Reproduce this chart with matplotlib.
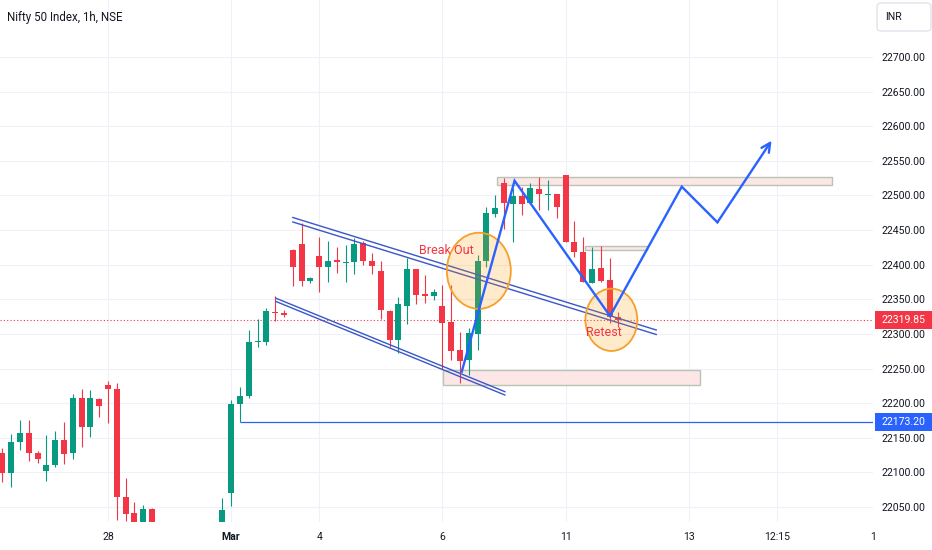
import matplotlib
matplotlib.use('Agg')
import matplotlib.pyplot as plt
from matplotlib.patches import Rectangle, Ellipse, FancyBboxPatch

plt.rcParams['font.family'] = ['Roboto', 'DejaVu Sans']

# ---- hourly candles, bar index: 0 = 28 Feb 09:15, 7 bars per session ----
idx = [-12, -11, -10, -9, -8, -7, -6, -5, -4, -3, -2, -1, 0, 1, 2, 3, 4, 5,
       13, 14, 15, 16, 17, 18, 19, 20, 21, 22, 23, 24, 25, 26, 27, 28, 29, 30,
       31, 32, 33, 34, 35, 36, 37, 38, 39, 40, 41, 42, 43, 44, 45, 46, 47, 48,
       49, 50, 51, 52, 53, 54, 55, 56, 57, 58]
opens = [22127.5, 22098.6, 22143.4, 22157.4, 22128.5, 22102.0, 22110.7, 22146.8,
         22127.5, 22207.0, 22165.1, 22205.5, 22226.2, 22220.5, 22065.0, 22041.8,
         22025.0, 22047.6, 22020.0, 22070.7, 22198.8, 22210.4, 22288.4, 22288.9,
         22331.7, 22330.8, 22421.2, 22429.9, 22376.9, 22413.0, 22396.2, 22406.8,
         22402.9, 22404.4, 22430.9, 22405.8, 22391.4, 22333.6, 22291.0, 22341.0,
         22393.3, 22357.2, 22355.5, 22340.5, 22316.8, 22276.8, 22262.4, 22299.9,
         22405.8, 22473.2, 22518.5, 22487.7, 22499.2, 22488.7, 22508.9, 22500.2,
         22502.0, 22529.6, 22433.2, 22417.9, 22374.0, 22395.7, 22377.9, 22324.0]
highs = [22134.7, 22155.5, 22175.7, 22175.7, 22131.4, 22154.0, 22160.3, 22172.3,
         22212.8, 22220.5, 22219.0, 22207.9, 22232.0, 22228.6, 22091.4, 22056.7,
         22052.9, 22048.6, 22062.6, 22204.6, 22223.9, 22305.7, 22321.1, 22337.0,
         22354.8, 22334.6, 22422.0, 22459.7, 22382.7, 22440.5, 22434.7, 22425.1,
         22428.4, 22438.1, 22434.7, 22416.4, 22405.0, 22334.0, 22353.5, 22410.0,
         22394.0, 22385.0, 22364.5, 22371.0, 22370.7, 22303.2, 22308.1, 22414.0,
         22483.8, 22500.7, 22524.8, 22510.3, 22512.7, 22518.5, 22527.1, 22522.3,
         22502.5, 22530.0, 22463.1, 22439.6, 22425.1, 22427.0, 22409.2, 22332.1]
lows = [22086.6, 22078.4, 22132.3, 22116.9, 22113.1, 22088.0, 22107.3, 22111.6,
        22118.9, 22136.2, 22151.6, 22180.5, 22170.9, 22031.2, 22030.3, 22020.0,
        22020.0, 22015.0, 22010.0, 22051.5, 22173.2, 22208.0, 22280.7, 22284.1,
        22319.2, 22325.0, 22369.2, 22369.2, 22374.0, 22361.0, 22375.5, 22388.5,
        22375.5, 22386.1, 22399.6, 22386.6, 22322.0, 22281.0, 22273.0, 22315.0,
        22343.0, 22344.0, 22349.0, 22250.0, 22262.4, 22228.7, 22240.7, 22276.8,
        22397.1, 22468.5, 22451.1, 22433.2, 22471.8, 22488.0, 22479.0, 22479.0,
        22467.0, 22433.0, 22411.6, 22375.0, 22373.0, 22375.0, 22315.4, 22310.5]
closes = [22098.6, 22144.4, 22156.4, 22128.5, 22118.9, 22110.7, 22146.8, 22126.1,
          22207.0, 22166.0, 22207.0, 22195.9, 22220.5, 22064.0, 22039.9, 22025.0,
          22046.6, 22022.0, 22045.7, 22198.8, 22210.4, 22288.9, 22290.3, 22333.2,
          22330.8, 22326.9, 22396.2, 22376.4, 22380.3, 22396.2, 22405.8, 22404.4,
          22403.9, 22429.9, 22405.8, 22398.6, 22335.0, 22291.0, 22342.8, 22393.3,
          22356.2, 22355.2, 22360.1, 22316.2, 22275.8, 22261.4, 22300.9, 22405.8,
          22475.1, 22481.4, 22488.7, 22499.2, 22487.7, 22510.3, 22501.7, 22502.0,
          22483.8, 22433.2, 22418.8, 22375.4, 22394.2, 22376.9, 22324.9, 22319.85]

last_price = 22319.85
support_price = 22173.20
support_start = 15

day_ticks = [0, 14, 24, 38, 52, 66, 76, 86.9]
day_labels = ['28', 'Mar', '4', '6', '11', '13', '12:15', '1']
price_ticks = list(range(22050, 22701, 50))

# ---- drawings ----
chan_top_x = [21.0, 62.3]
chan_top_a = [22468.2, 22305.7]
chan_top_b = [22461.7, 22299.2]
chan_bot_x = [19.1, 45.1]
chan_bot_a = [22351.5, 22216.6]
chan_bot_b = [22346.8, 22211.8]

zigzag_x = [40.2, 46.2, 57.05, 65.2, 69.25, 75.4]
zigzag_y = [22245.5, 22521.3, 22325.9, 22512.7, 22461.2, 22579.1]

# zones: x0, x1, low, high
zones = [(44.2, 82.3, 22515.1, 22527.1),
         (54.2, 61.25, 22421.2, 22427.7),
         (38.1, 67.3, 22226.2, 22247.9)]

# circles: cx, cy, width (bars), height (points)
circles = [(42.14, 22391.2, 7.27, 110.0), (57.2, 22320.4, 5.9, 90.0)]
notes = [(38.4, 22419.8, 'Break Out'), (56.36, 22301.8, 'Retest')]

GREEN = '#089981'
RED = '#f23645'
BLUE = '#2962ff'
GRID = '#eef1f7'
TXT = '#131722'

fig = plt.figure(figsize=(9.32, 5.5), dpi=100)
ax = fig.add_axes([0, 28 / 550, 873 / 932, 522 / 550])
ax.set_xlim(-12.27, 86.93)
ax.set_ylim(22028.4, 22782.3)

for s in ax.spines.values():
    s.set_visible(False)

ax.set_yticks(price_ticks)
ax.set_yticklabels(['%.2f' % p for p in price_ticks])
ax.yaxis.tick_right()
ax.set_xticks(day_ticks)
ax.set_xticklabels(day_labels)
ax.tick_params(length=0, labelsize=7.6, colors=TXT)
ax.tick_params(axis='y', pad=6)
ax.tick_params(axis='x', pad=7)
ax.get_xticklabels()[1].set_fontweight('bold')
ax.grid(True, color=GRID, lw=0.8)
ax.set_axisbelow(True)

# candles
for i, o, h, l, c in zip(idx, opens, highs, lows, closes):
    col = GREEN if c >= o else RED
    ax.vlines(i, l, h, color=col, lw=0.8, zorder=2)
    ax.bar(i, max(abs(c - o), 1.2), bottom=min(o, c), width=0.68,
           color=col, zorder=3)

# price lines
ax.axhline(last_price, color=RED, lw=0.8, ls=(0, (1, 2)), zorder=1.5)
ax.hlines(support_price, support_start, 86.93, color=BLUE, lw=0.9, zorder=4)

# zones
for x0, x1, lo, hi in zones:
    ax.add_patch(Rectangle((x0, lo), x1 - x0, hi - lo, fc='#fde6e6',
                           ec='#b9c4b4', lw=1.0, zorder=1.8))

# channel lines
for ys in (chan_top_a, chan_top_b):
    ax.plot(chan_top_x, ys, color='#3a56c9', lw=1.0, zorder=5)
for ys in (chan_bot_a, chan_bot_b):
    ax.plot(chan_bot_x, ys, color='#3a56c9', lw=1.0, zorder=5)

# projected path
ax.plot(zigzag_x[:-1], zigzag_y[:-1], color=BLUE, lw=1.7, zorder=6,
        solid_joinstyle='miter')
ax.annotate('', xy=(zigzag_x[-1], zigzag_y[-1]),
            xytext=(zigzag_x[-2], zigzag_y[-2]),
            arrowprops=dict(arrowstyle='->', color=BLUE, lw=1.7,
                            mutation_scale=16, shrinkA=0, shrinkB=0),
            zorder=6)

# circles and notes
for cx, cy, w, h in circles:
    ax.add_patch(Ellipse((cx, cy), w, h, fc=(1, 0.6, 0, 0.2), ec='#f5a02a',
                         lw=1.3, zorder=5.5))
for x, y, t in notes:
    ax.text(x, y, t, color=RED, fontsize=9, ha='center', va='center',
            zorder=7)

# price scale labels
ytr = ax.get_yaxis_transform()
for p, col in ((last_price, RED), (support_price, BLUE)):
    ax.add_patch(Rectangle((875 / 873, p - 12.8), 57 / 873, 25.6, fc=col,
                           ec='none', transform=ytr, clip_on=False, zorder=8))
    ax.text(881 / 873, p, '%.2f' % p, color='white', fontsize=7.6,
            va='center', ha='left', transform=ytr, zorder=9)

# header
fig.text(7 / 932, 1 - 17 / 550, 'Nifty 50 Index, 1h, NSE', fontsize=8.3,
         color=TXT, va='center', ha='left')
fig.add_artist(FancyBboxPatch((877, 550 - 31), 54, 28,
                              boxstyle='round,pad=0,rounding_size=4',
                              fc='white', ec='#e0e3eb', lw=1.0,
                              transform=None))
fig.text(885 / 932, 1 - 17 / 550, 'INR', fontsize=7.6, color=TXT,
         va='center', ha='left')

fig.savefig('out.png', dpi=100)
